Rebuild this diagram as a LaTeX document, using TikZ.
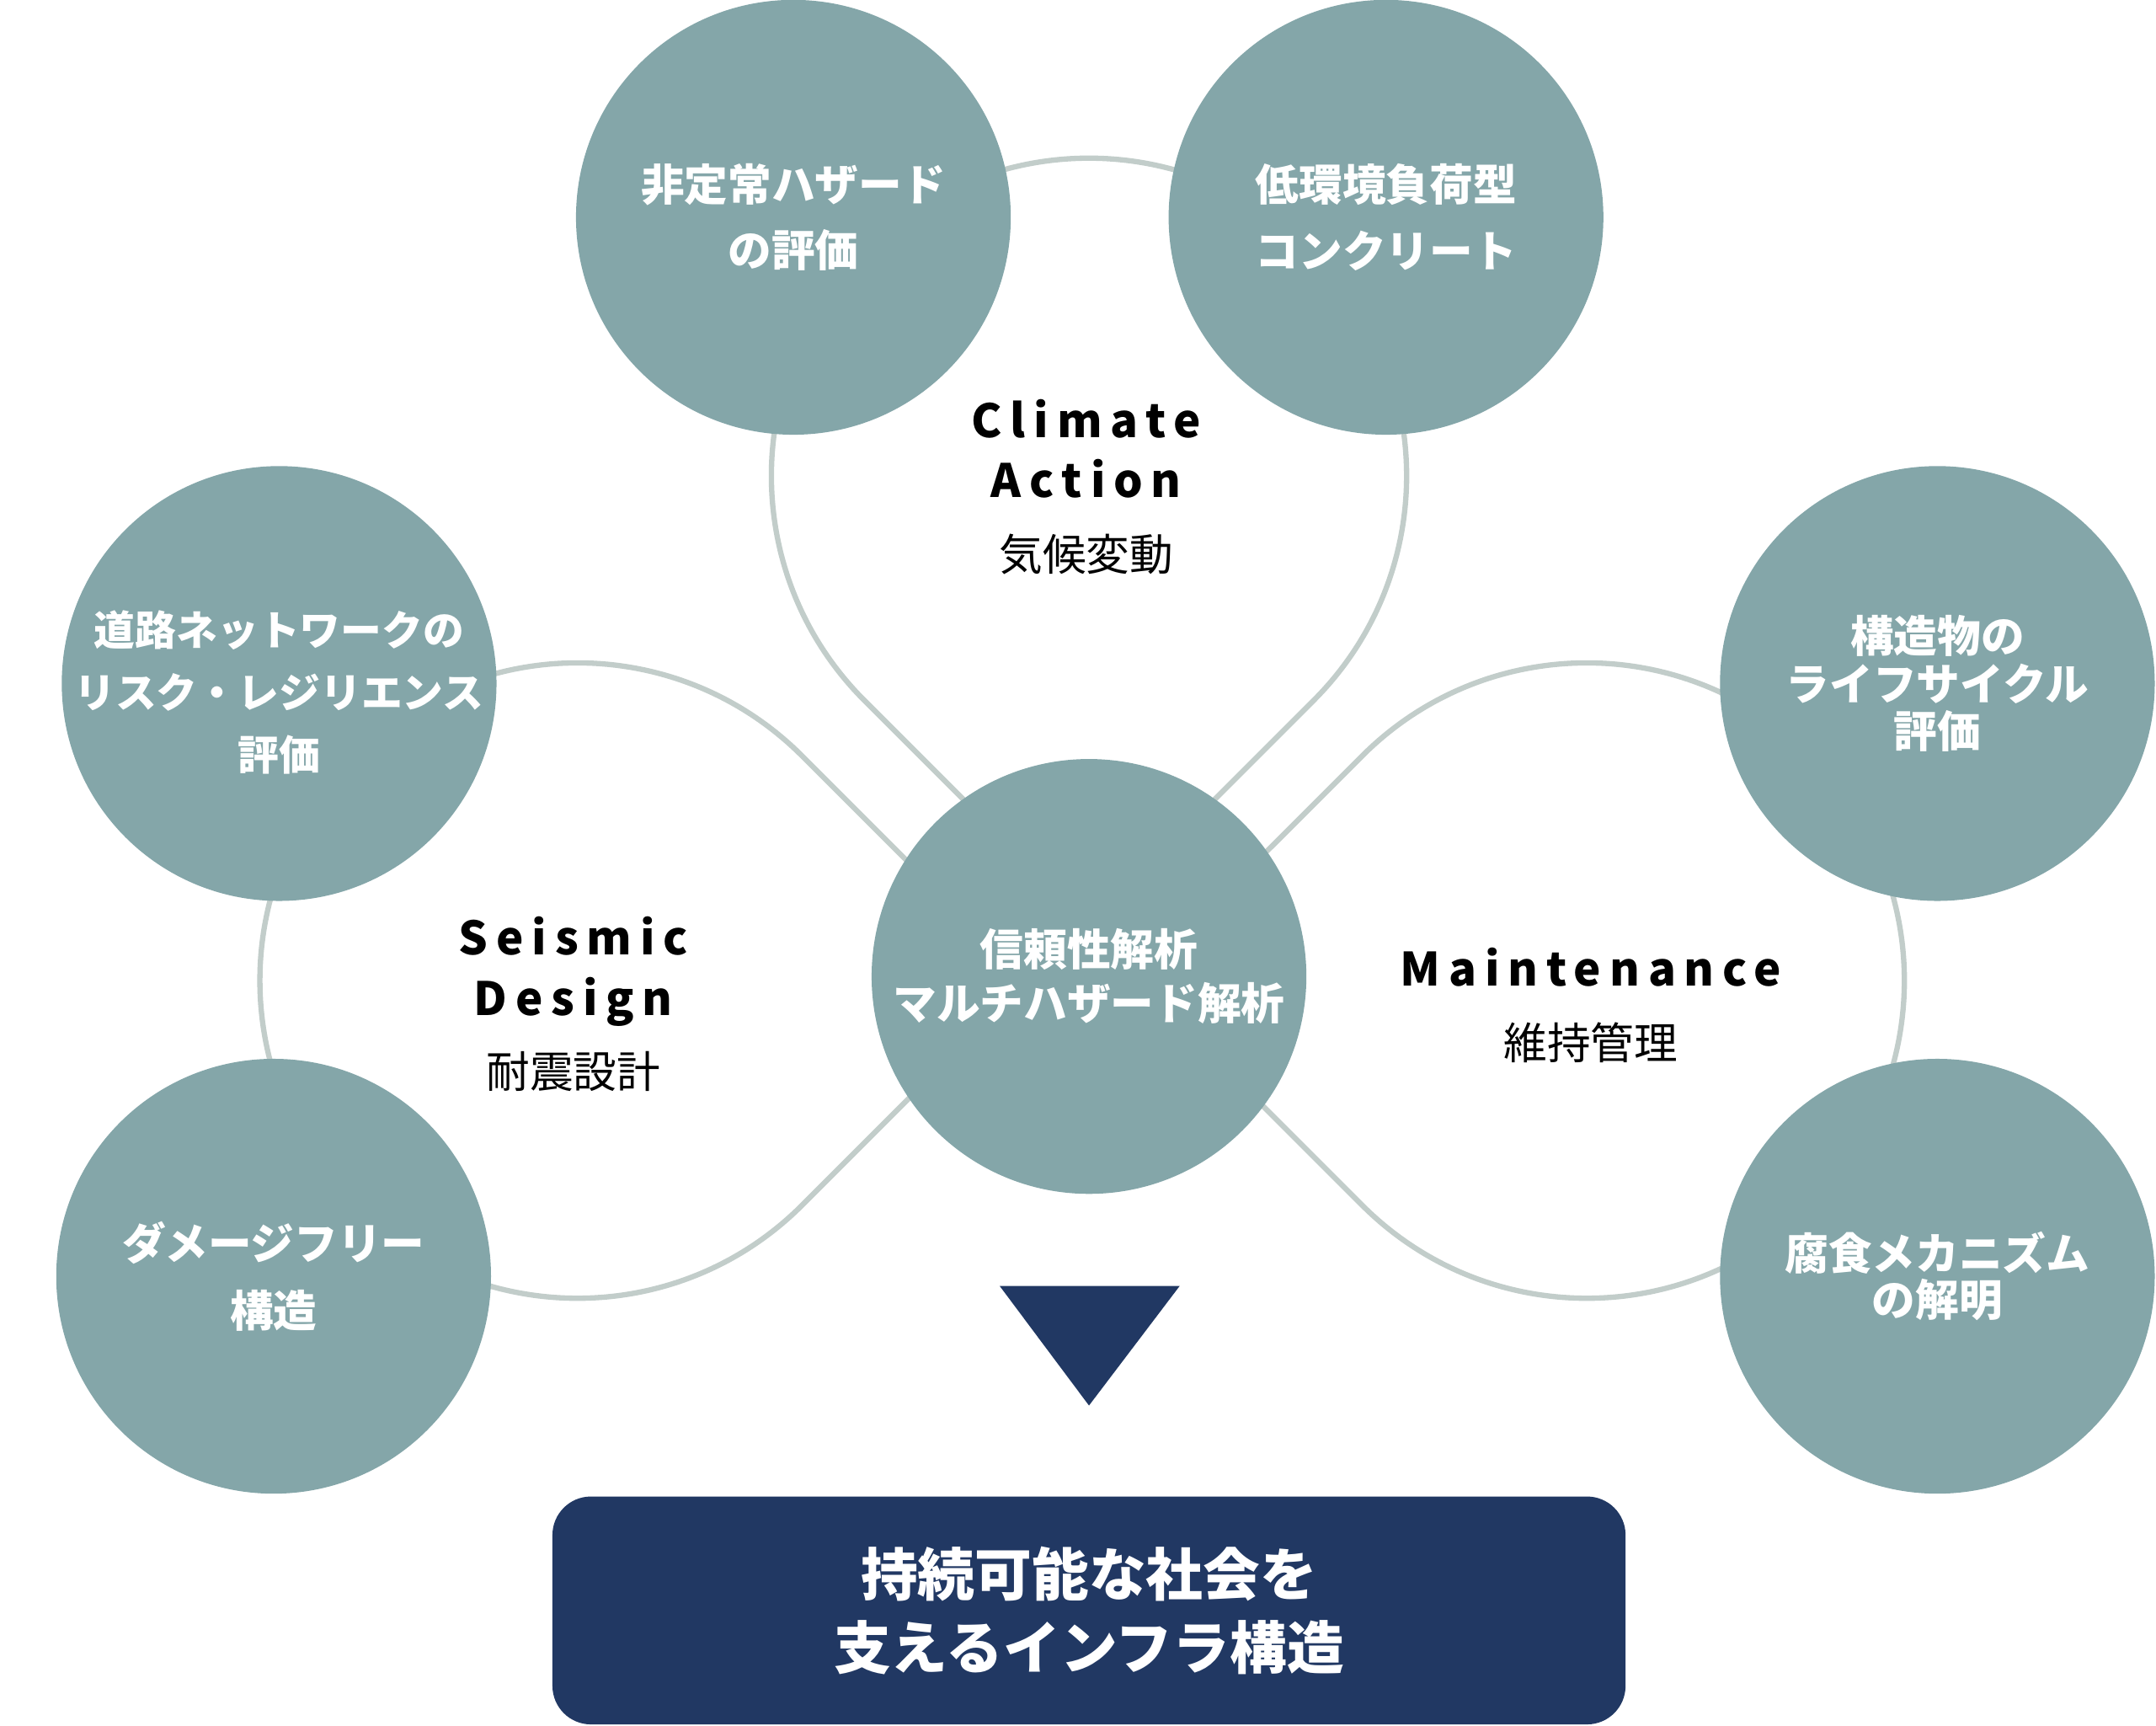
\documentclass[tikz,border=0pt]{standalone}
\usepackage{fontspec}
\setmainfont{Noto Sans CJK JP}
\usepackage{xcolor}
\usepackage{tikz}
\usetikzlibrary{calc}

\definecolor{bubble}{HTML}{84A6A9}
\definecolor{loopline}{HTML}{C2CDCA}
\definecolor{navy}{HTML}{213863}

\newcommand{\spaced}[1]{{\bfseries\addfontfeature{LetterSpace=18}#1}}

\begin{document}
\begin{tikzpicture}[x=0.01cm, y=-0.01cm]
		% Define the styles
		\tikzstyle{topic}=[circle, fill=bubble, minimum size=3.16cm, inner sep=-1cm, text=white, align=center, font=\bfseries\fontsize{9}{13.7}\selectfont]
		\tikzstyle{theme}=[align=center, font=\fontsize{9.5}{12.5}\selectfont]
		\tikzstyle{loop}=[draw=loopline, line width=1.1pt]

		\useasboundingbox (0,0) rectangle (1568,1255);

		% Define the loops
		\coordinate (climate) at (792,346);
		\coordinate (seismic) at (420,713);
		\coordinate (maint) at (1154,713);

		\draw[loop] ($(climate)+(0,326.7)$) -- ($(climate)+(135:231)$) arc[start angle=135, end angle=405, radius=231] -- cycle;
		\draw[loop] ($(seismic)+(326.7,0)$) -- ($(seismic)+(45:231)$) arc[start angle=45, end angle=315, radius=231] -- cycle;
		\draw[loop] ($(maint)+(-326.7,0)$) -- ($(maint)+(135:231)$) arc[start angle=135, end angle=-135, radius=231] -- cycle;

		% Define nodes
		\node[topic] (hazard) at (577,158) {非定常ハザード\\の評価};
		\node[topic] (concrete) at (1008,158) {低環境負荷型\\コンクリート};
		\node[topic, font=\bfseries\fontsize{8.5}{12.9}\selectfont] (network) at (203,497) {\rule{0pt}{10.9pt}道路ネットワークの\\リスク・レジリエンス\\評価};
		\node[topic, font=\bfseries\fontsize{9}{13.9}\selectfont] (damage) at (199,928) {ダメージフリー\\構造};
		\node[topic, font=\bfseries\fontsize{9}{9.8}\selectfont] (lifecycle) at (1409,497) {構造物の\\ライフサイクル\\評価};
		\node[topic, font=\bfseries\fontsize{9}{9.7}\selectfont] (corrosion) at (1409,928) {腐食メカニズム\\の解明};
		\node[topic, font=\bfseries\fontsize{9}{11.1}\selectfont] (reliability) at (792,710) {信頼性解析\\マルチハザード解析};

		\node[theme] (climatelabel) at (790,354) {\spaced{Climate}\\\spaced{Action}\\[2.6pt]{\fontsize{9}{12}\selectfont 気候変動}};
		\node[theme] (seismiclabel) at (417,730) {\spaced{Seismic}\\\spaced{Design}\\[2.4pt]{\fontsize{9}{12}\selectfont 耐震設計}};
		\node[theme] (maintlabel) at (1157,731) {\spaced{Maintenance}\\[2.6pt]{\fontsize{9}{12}\selectfont 維持管理}};

		% Define the goal
		\fill[navy] (727,935) -- (858,935) -- (792,1022) -- cycle;
		\node[fill=navy, rounded corners=0.28cm, minimum width=7.8cm, minimum height=1.656cm, text=white, align=center, font=\bfseries\fontsize{11.8}{15.1}\selectfont] (goal) at (792,1171) {持続可能な社会を\\支えるインフラ構造};
	\end{tikzpicture}
\end{document}
